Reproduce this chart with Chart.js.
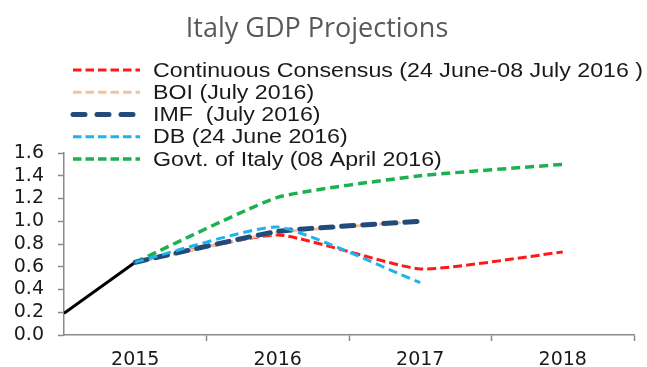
<!DOCTYPE html>
<html>
<head>
<meta charset="utf-8">
<script src="https://cdn.jsdelivr.net/npm/chart.js@4.4.1/dist/chart.umd.min.js"></script>
<style>
  html, body { margin: 0; padding: 0; background: #ffffff; }
  #wrap { width: 647px; height: 367px; }
</style>
</head>
<body>
<div id="wrap"><canvas id="c" width="647" height="367"></canvas></div>
<script>
// ---- Data ----
const chartTitle = 'Italy GDP Projections';
const years = [2015, 2016, 2017, 2018];
const yTicks = [0.0, 0.2, 0.4, 0.6, 0.8, 1.0, 1.2, 1.4, 1.6];

// actual GDP path leading into 2015 (starts at the left edge of the axis)
const actualX = [2014.5, 2015];
const actualY = [0.19, 0.64];

const consensusLabel = 'Continuous Consensus (24 June-08 July 2016 )';
const consensus = [0.64, 0.88, 0.58, 0.73];

const boiLabel = 'BOI (July 2016)';
const boi = [0.64, 0.90, 1.00, null];

const imfLabel = 'IMF  (July 2016)';
const imf = [0.64, 0.91, 1.00, null];

const dbLabel = 'DB (24 June 2016)';
const db = [0.64, 0.95, 0.46, null];

const govtLabel = 'Govt. of Italy (08 April 2016)';
const govt = [0.64, 1.21, 1.40, 1.50];

// ---- helpers ----
function toPoints(xs, ys) {
  const pts = [];
  xs.forEach((x, i) => { if (ys[i] !== null && ys[i] !== undefined) pts.push({ x: x, y: ys[i] }); });
  return pts;
}

const AXIS_GREY = '#8a8a8a';
const xMin = years[0] - 0.5;
const xMax = years[years.length - 1] + 0.5;

function series(label, values, color, width, dash, order, cap) {
  return {
    label: label,
    data: toPoints(years, values),
    borderColor: color,
    backgroundColor: color,
    borderWidth: width,
    borderDash: dash,
    borderCapStyle: cap || 'butt',
    borderJoinStyle: 'round',
    pointRadius: 0,
    tension: 0.15,
    fill: false,
    order: order,
    showInLegend: true
  };
}

const datasets = [
  series(consensusLabel, consensus, '#ff1a1a', 3, [9, 4], 3),
  series(boiLabel, boi, '#f7c19b', 3, [9, 4], 2),
  series(imfLabel, imf, '#234b7a', 5, [12, 9], 1, 'round'),
  series(dbLabel, db, '#1fb2ec', 3, [9, 5], 0),
  series(govtLabel, govt, '#1db04f', 3.5, [9, 5], 4),
  {
    label: '',
    data: toPoints(actualX, actualY),
    borderColor: '#000000',
    borderWidth: 3,
    pointRadius: 0,
    tension: 0,
    fill: false,
    order: 5,
    showInLegend: false
  }
];

// ---- custom in-plot legend ----
const insideLegend = {
  id: 'insideLegend',
  afterDraw(chart) {
    const ctx = chart.ctx;
    const area = chart.chartArea;
    const x0 = area.left + 9;
    const lineLen = 67;
    const textX = area.left + 89;
    const firstY = 70;
    const step = 22.25;
    let row = 0;
    chart.data.datasets.forEach(ds => {
      if (!ds.showInLegend) return;
      const y = firstY + row * step;
      ctx.save();
      ctx.strokeStyle = ds.borderColor;
      ctx.lineWidth = ds.borderWidth;
      ctx.lineCap = ds.borderCapStyle || 'butt';
      ctx.setLineDash(ds.borderCapStyle === 'round' ? [12, 12] : [8.5, 4]);
      ctx.beginPath();
      ctx.moveTo(x0, y);
      ctx.lineTo(x0 + lineLen, y);
      ctx.stroke();
      ctx.restore();

      ctx.save();
      ctx.fillStyle = '#1a1a1a';
      ctx.font = '20px "Liberation Sans", Arial, sans-serif';
      ctx.textBaseline = 'alphabetic';
      ctx.textAlign = 'left';
      ctx.translate(textX, y + 6.5);
      ctx.scale(1.16, 1);
      ctx.fillText(ds.label, 0, 0);
      ctx.restore();
      row++;
    });
  }
};

new Chart(document.getElementById('c'), {
  type: 'line',
  data: { datasets: datasets },
  plugins: [insideLegend],
  options: {
    responsive: false,
    animation: false,
    events: [],
    layout: { padding: { left: 0, right: 13, top: 0, bottom: 0 } },
    plugins: {
      legend: { display: false },
      tooltip: { enabled: false },
      title: {
        display: true,
        text: chartTitle,
        color: '#595959',
        font: { family: '"Open Sans", sans-serif', size: 27, weight: 'normal', lineHeight: 1.2 },
        padding: { top: 13, bottom: 107.6 }
      }
    },
    scales: {
      x: {
        type: 'linear',
        min: xMin,
        max: xMax,
        afterFit(scale) { scale.height = 32; },
        border: { display: true, color: AXIS_GREY, width: 1.5 },
        grid: {
          display: true,
          drawOnChartArea: false,
          drawTicks: true,
          tickLength: 6,
          tickWidth: 1.5,
          tickColor: (c) => (c.tick && !years.includes(c.tick.value) && c.tick.value !== xMin) ? AXIS_GREY : 'rgba(0,0,0,0)'
        },
        ticks: {
          stepSize: 0.5,
          autoSkip: false,
          maxRotation: 0,
          padding: 8,
          color: '#1a1a1a',
          font: { family: '"DejaVu Sans", sans-serif', size: 19 },
          callback: (v) => years.includes(v) ? String(v) : ''
        }
      },
      y: {
        type: 'linear',
        min: yTicks[0],
        max: yTicks[yTicks.length - 1],
        afterFit(scale) { scale.width = 64; },
        afterBuildTicks(scale) { scale.ticks = yTicks.map(v => ({ value: v })); },
        border: { display: true, color: AXIS_GREY, width: 1.5 },
        grid: {
          display: true,
          drawOnChartArea: false,
          drawTicks: true,
          tickLength: 6,
          tickWidth: 1.5,
          tickColor: AXIS_GREY
        },
        ticks: {
          autoSkip: false,
          padding: 14,
          color: '#1a1a1a',
          font: { family: '"DejaVu Sans", sans-serif', size: 19 },
          callback: (v) => Number(v).toFixed(1)
        }
      }
    }
  }
});
</script>
</body>
</html>
